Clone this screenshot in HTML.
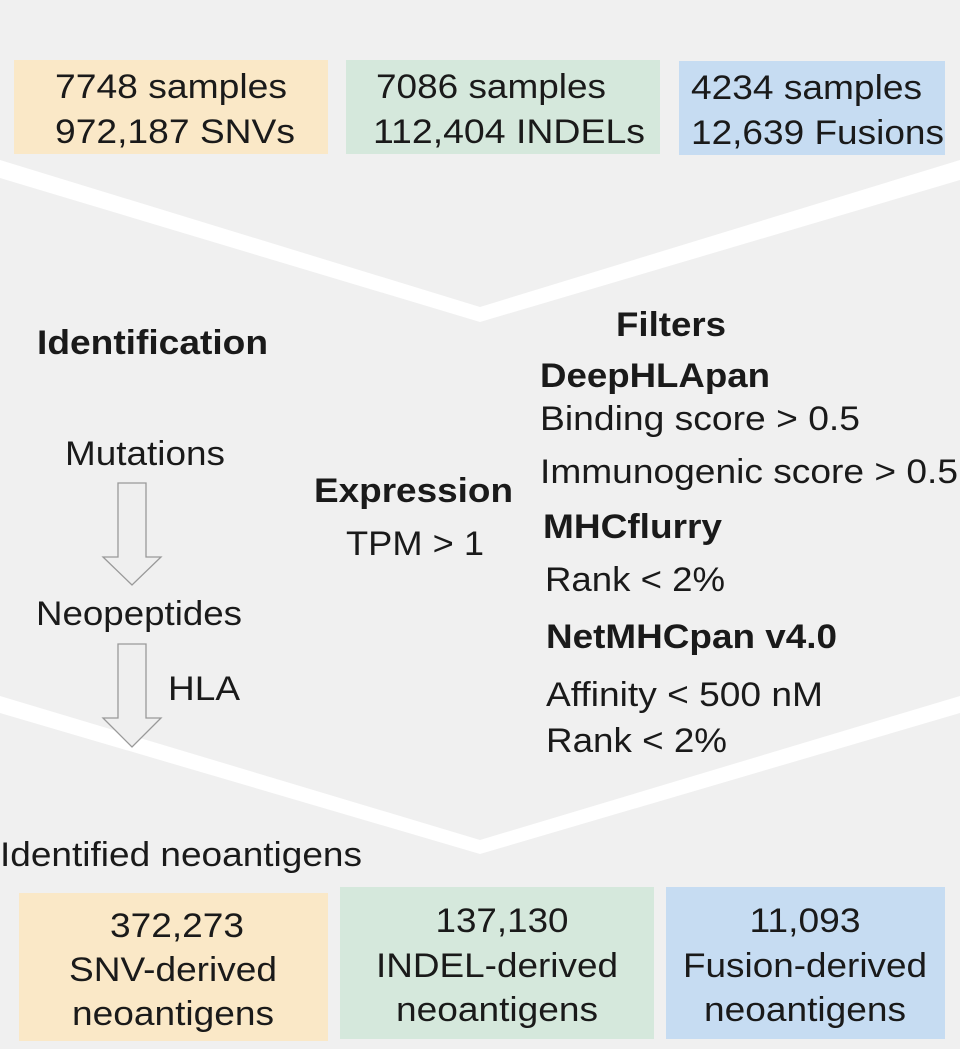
<!DOCTYPE html>
<html><head><meta charset="utf-8"><style>
html,body{margin:0;padding:0;background:#f0f0f0}
svg{display:block}
text{font-family:"Liberation Sans",Arial,sans-serif;fill:#1a1a1a;font-size:34px}
.b{font-weight:bold}
</style></head><body>
<svg width="960" height="1049" viewBox="0 0 960 1049" xmlns="http://www.w3.org/2000/svg">
<rect width="960" height="1049" fill="#f0f0f0"/>
<!-- chevrons -->
<polygon points="0,160 480,307 960,160 960,180 480,322 0,178" fill="#ffffff"/>
<polygon points="0,696 480,840 960,696 960,713 480,854 0,713" fill="#ffffff"/>
<!-- top boxes -->
<rect x="14" y="60" width="314" height="94" fill="#fae8c7"/>
<rect x="346" y="60" width="314" height="94" fill="#d5e8dc"/>
<rect x="679" y="61" width="266" height="94" fill="#c6dcf2"/>
<text x="55" y="98" textLength="232" lengthAdjust="spacingAndGlyphs">7748 samples</text>
<text x="55" y="143" textLength="240" lengthAdjust="spacingAndGlyphs">972,187 SNVs</text>
<text x="376" y="98" textLength="230" lengthAdjust="spacingAndGlyphs">7086 samples</text>
<text x="373" y="143" textLength="272" lengthAdjust="spacingAndGlyphs">112,404 INDELs</text>
<text x="691" y="99" textLength="231" lengthAdjust="spacingAndGlyphs">4234 samples</text>
<text x="691" y="144" textLength="253" lengthAdjust="spacingAndGlyphs">12,639 Fusions</text>
<!-- left -->
<text class="b" x="37" y="354" textLength="231" lengthAdjust="spacingAndGlyphs">Identification</text>
<text x="65" y="465" textLength="160" lengthAdjust="spacingAndGlyphs">Mutations</text>
<text x="36" y="625" textLength="206" lengthAdjust="spacingAndGlyphs">Neopeptides</text>
<text x="168" y="700" textLength="72" lengthAdjust="spacingAndGlyphs">HLA</text>
<polygon points="118,483 146,483 146,557 161,557 132,585 103,557 118,557" fill="#efefef" stroke="#999" stroke-width="1.3"/>
<polygon points="118,644 146,644 146,718 161,718 132,747 103,718 118,718" fill="#efefef" stroke="#999" stroke-width="1.3"/>
<!-- middle -->
<text class="b" x="314" y="502" textLength="199" lengthAdjust="spacingAndGlyphs">Expression</text>
<text x="346" y="555" textLength="138" lengthAdjust="spacingAndGlyphs">TPM &gt; 1</text>
<!-- right -->
<text class="b" x="616" y="336" textLength="110" lengthAdjust="spacingAndGlyphs">Filters</text>
<text class="b" x="540" y="387" textLength="230" lengthAdjust="spacingAndGlyphs">DeepHLApan</text>
<text x="540" y="430" textLength="320" lengthAdjust="spacingAndGlyphs">Binding score &gt; 0.5</text>
<text x="540" y="483" textLength="418" lengthAdjust="spacingAndGlyphs">Immunogenic score &gt; 0.5</text>
<text class="b" x="543" y="538" textLength="179" lengthAdjust="spacingAndGlyphs">MHCflurry</text>
<text x="545" y="591" textLength="180" lengthAdjust="spacingAndGlyphs">Rank &lt; 2%</text>
<text class="b" x="546" y="648" textLength="291" lengthAdjust="spacingAndGlyphs">NetMHCpan v4.0</text>
<text x="546" y="706" textLength="277" lengthAdjust="spacingAndGlyphs">Affinity &lt; 500 nM</text>
<text x="546" y="752" textLength="181" lengthAdjust="spacingAndGlyphs">Rank &lt; 2%</text>
<!-- bottom -->
<text x="0" y="866" textLength="362" lengthAdjust="spacingAndGlyphs">Identified neoantigens</text>
<rect x="19" y="893" width="309" height="148" fill="#fae8c7"/>
<rect x="340" y="887" width="314" height="152" fill="#d5e8dc"/>
<rect x="666" y="887" width="279" height="152" fill="#c6dcf2"/>
<g text-anchor="middle">
<text x="177" y="937" textLength="134" lengthAdjust="spacingAndGlyphs">372,273</text>
<text x="173" y="981" textLength="208" lengthAdjust="spacingAndGlyphs">SNV-derived</text>
<text x="173" y="1025" textLength="202" lengthAdjust="spacingAndGlyphs">neoantigens</text>
<text x="502" y="932" textLength="133" lengthAdjust="spacingAndGlyphs">137,130</text>
<text x="497" y="977" textLength="242" lengthAdjust="spacingAndGlyphs">INDEL-derived</text>
<text x="497" y="1021" textLength="202" lengthAdjust="spacingAndGlyphs">neoantigens</text>
<text x="805" y="932" textLength="111" lengthAdjust="spacingAndGlyphs">11,093</text>
<text x="805" y="977" textLength="244" lengthAdjust="spacingAndGlyphs">Fusion-derived</text>
<text x="805" y="1021" textLength="202" lengthAdjust="spacingAndGlyphs">neoantigens</text>
</g>
</svg>
</body></html>
